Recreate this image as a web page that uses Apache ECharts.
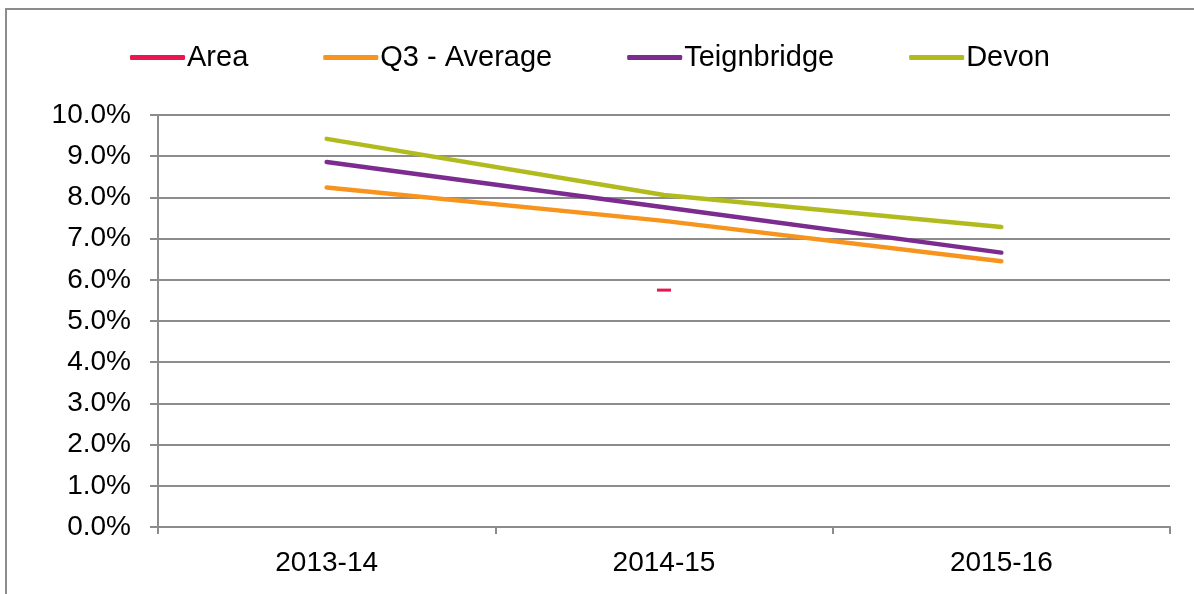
<!DOCTYPE html>
<html>
<head>
<meta charset="utf-8">
<script src="https://cdn.jsdelivr.net/npm/echarts@6/dist/echarts.min.js"></script>
<style>
html, body { margin: 0; padding: 0; background: #fff; overflow: hidden; }
.frame {
	position: absolute;
	left: 5px;
	top: 8px;
	width: 1400px;
	height: 800px;
	border: 2px solid #8c8c8c;
}
#chart {
	position: absolute;
	left: 0;
	top: 0;
	width: 1194px;
	height: 594px;
}
</style>
</head>
<body>
<div class="frame"></div>
<div id="chart"></div>

<script type="text/javascript">
	// 数据
	var years = ['2013-14', '2014-15', '2015-16'];
	var areaVals = [null, 5.75, null];
	var q3Vals = [8.24, 7.43, 6.45];
	var teignVals = [8.86, 7.76, 6.66];
	var devonVals = [9.42, 8.06, 7.28];

	var font = 'Liberation Sans, Arial, sans-serif';

	function lineSeries(name, data, color) {
		return {
			name: name,
			type: 'line',
			data: data,
			showSymbol: false,
			symbol: 'none',
			lineStyle: { color: color, width: 4.5, cap: 'round', join: 'round' },
			itemStyle: { color: color },
			emphasis: { disabled: true }
		};
	}

	var option = {
		animation: false,
		backgroundColor: 'transparent',
		legend: {
			left: 125,
			top: 38,
			itemWidth: 55,
			itemHeight: 5,
			itemGap: 75,
			icon: 'roundRect',
			textStyle: { fontFamily: font, fontSize: 29, color: '#000', padding: [0, 0, 0, -3] },
			data: ['Area', 'Q3 - Average', 'Teignbridge', 'Devon']
		},
		grid: {
			left: 158,
			right: 24,
			top: 115,
			bottom: 67
		},
		xAxis: {
			type: 'category',
			data: years,
			boundaryGap: true,
			axisLine: { lineStyle: { color: '#8c8c8c', width: 2 } },
			axisTick: { show: true, length: 7, lineStyle: { color: '#8c8c8c', width: 2 } },
			axisLabel: { fontFamily: font, fontSize: 28, color: '#000', margin: 22 }
		},
		yAxis: {
			type: 'value',
			min: 0,
			max: 10,
			interval: 1,
			axisLine: { show: true, lineStyle: { color: '#8c8c8c', width: 2 } },
			axisTick: { show: true, length: 8, lineStyle: { color: '#8c8c8c', width: 2 } },
			splitLine: { lineStyle: { color: '#8c8c8c', width: 2 } },
			axisLabel: {
				fontFamily: font,
				fontSize: 28,
				color: '#000',
				margin: 27,
				formatter: function (v) { return v.toFixed(1) + '%'; }
			}
		},
		series: [
			{
				name: 'Area',
				type: 'line',
				data: areaVals,
				showSymbol: true,
				symbol: 'rect',
				symbolSize: [14, 3],
				lineStyle: { color: '#e8174f', width: 4.5 },
				itemStyle: { color: '#e8174f' },
				emphasis: { disabled: true }
			},
			lineSeries('Q3 - Average', q3Vals, '#f7941d'),
			lineSeries('Teignbridge', teignVals, '#7b2c8e'),
			lineSeries('Devon', devonVals, '#b2bb1e')
		]
	};

	var chart = echarts.init(document.getElementById('chart'));
	chart.setOption(option);
</script>
</body>
</html>
